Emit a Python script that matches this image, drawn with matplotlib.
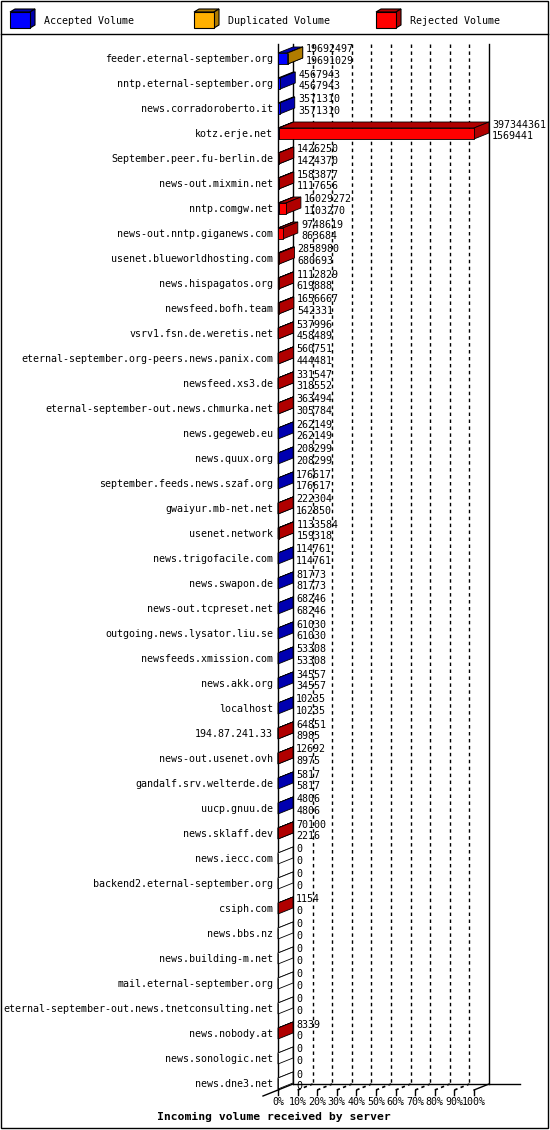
import matplotlib
matplotlib.use("Agg")
import matplotlib.pyplot as plt
from matplotlib.patches import Polygon, Rectangle

# incoming volume per server: total (top number) and accepted (bottom number)
servers = [
    "feeder.eternal-september.org", "nntp.eternal-september.org", "news.corradoroberto.it",
    "kotz.erje.net", "September.peer.fu-berlin.de", "news-out.mixmin.net", "nntp.comgw.net",
    "news-out.nntp.giganews.com", "usenet.blueworldhosting.com", "news.hispagatos.org",
    "newsfeed.bofh.team", "vsrv1.fsn.de.weretis.net", "eternal-september.org-peers.news.panix.com",
    "newsfeed.xs3.de", "eternal-september-out.news.chmurka.net", "news.gegeweb.eu", "news.quux.org",
    "september.feeds.news.szaf.org", "gwaiyur.mb-net.net", "usenet.network", "news.trigofacile.com",
    "news.swapon.de", "news-out.tcpreset.net", "outgoing.news.lysator.liu.se", "newsfeeds.xmission.com",
    "news.akk.org", "localhost", "194.87.241.33", "news-out.usenet.ovh", "gandalf.srv.welterde.de",
    "uucp.gnuu.de", "news.sklaff.dev", "news.iecc.com", "backend2.eternal-september.org", "csiph.com",
    "news.bbs.nz", "news.building-m.net", "mail.eternal-september.org",
    "eternal-september-out.news.tnetconsulting.net", "news.nobody.at", "news.sonologic.net", "news.dne3.net",
]
total = [
    19692497, 4567943, 3571310, 397344361, 1426250, 1583877, 16029272, 9748619, 2858980, 1112829,
    1656667, 537996, 560751, 331547, 363494, 262149, 208299, 176617, 222304, 1133584, 114761,
    81773, 68246, 61030, 53308, 34557, 10235, 64851, 12692, 5817, 4806, 70100, 0, 0, 1154,
    0, 0, 0, 0, 8339, 0, 0,
]
accepted = [
    19691029, 4567943, 3571310, 1569441, 1424370, 1117656, 1103270, 863684, 680693, 619888,
    542331, 458489, 444481, 318552, 305784, 262149, 208299, 176617, 162850, 159318, 114761,
    81773, 68246, 61030, 53308, 34557, 10235, 8985, 8975, 5817, 4806, 2216, 0, 0, 0,
    0, 0, 0, 0, 0, 0, 0,
]
# servers whose non-accepted part shows as duplicated (the rest is rejected)
dup_servers = ["feeder.eternal-september.org"]

legend_names = ["Accepted Volume", "Duplicated Volume", "Rejected Volume"]
front_cols = ["#0000ff", "#ffb000", "#ff0000"]
side_cols = ["#0000b0", "#b07c00", "#b00000"]
tick_labels = ["0%", "10%", "20%", "30%", "40%", "50%", "60%", "70%", "80%", "90%", "100%"]
title = "Incoming volume received by server"

W, H = 550, 1130
FONT = "DejaVu Sans Mono"
FS = 7.2

fig = plt.figure(figsize=(W / 100, H / 100), dpi=100)

# full figure overlay in pixels, for frame and legend
bg = fig.add_axes([0, 0, 1, 1])
bg.set_xlim(0, W)
bg.set_ylim(H, 0)
bg.axis("off")
bg.add_patch(Rectangle((1, 1), 547, 1127, fill=False, ec="black", lw=1))
bg.plot([1, 548], [34, 34], color="black", lw=1)
for i, (name, fc, sc) in enumerate(zip(legend_names, front_cols, side_cols)):
    x0 = [10, 194, 376][i]
    bg.add_patch(Polygon([(x0, 12), (x0 + 5, 9), (x0 + 25, 9), (x0 + 20, 12)], closed=True, fc=sc, ec="black", lw=0.8))
    bg.add_patch(Polygon([(x0 + 20, 12), (x0 + 25, 9), (x0 + 25, 25), (x0 + 20, 28)], closed=True, fc=sc, ec="black", lw=0.8))
    bg.add_patch(Rectangle((x0, 12), 20, 16, fc=fc, ec="black", lw=0.8))
    bg.text(x0 + 34, 21, name, fontsize=FS, family=FONT, va="center", ha="left")
bg.text(274, 1117, title, fontsize=8.2, family=FONT, weight="bold", ha="center", va="center")

# chart axes: x in percent of largest total, y in row index
ax = fig.add_axes([278 / W, 1 - 1084 / H, 196 / W, 1025 / H])
n = len(servers)
ax.set_xlim(0, 100)
ax.set_ylim(n - 1, 0)
ax.axis("off")

dx = 15 / 1.96          # depth offset in percent
dy = 6 / 25             # depth offset in rows
top_off, bot_off = 0.24, 0.2
y_top = -0.6
y_floor = n - 1 + top_off

# walls and grid
ax.plot([0, 0], [y_top, y_floor], color="black", lw=1, clip_on=False, zorder=1)
ax.plot([dx, dx], [y_top, y_floor - dy], color="black", lw=1, clip_on=False, zorder=1)
ax.plot([100 + dx, 100 + dx], [y_top, y_floor - dy], color="black", lw=1, clip_on=False, zorder=1)
for k in range(1, 10):
    gx = 10 * k
    ax.plot([gx + dx, gx + dx], [y_top, y_floor - dy], color="black", lw=1,
            dashes=(2.5, 2.5), clip_on=False, zorder=1)
ax.plot([dx, 123.5], [y_floor - dy, y_floor - dy], color="black", lw=1, clip_on=False, zorder=1)
ax.plot([-dx, dx], [y_floor + dy, y_floor - dy], color="black", lw=1, clip_on=False, zorder=1)
ax.plot([100, 100 + dx], [y_floor, y_floor - dy], color="black", lw=1, clip_on=False, zorder=1)
for k, lab in enumerate(tick_labels):
    tx = 10 * k
    ax.plot([tx, tx], [y_floor, y_floor + 0.2], color="black", lw=1, clip_on=False, zorder=1)
    if 0 < k < 10:
        ax.plot([tx, tx + dx], [y_floor, y_floor - dy], color="black", lw=1.2,
                dashes=(2, 2), clip_on=False, zorder=1)
    ax.text(tx, y_floor + 0.48, lab, fontsize=FS, family=FONT, ha="center", va="center")


def bar3d(x0, x1, r, fc, sc, z):
    yt, yb = r - top_off, r + bot_off
    kw = dict(closed=True, ec="black", lw=0.6, clip_on=False, zorder=z)
    ax.add_patch(Polygon([(x0, yt), (x1, yt), (x1 + dx, yt - dy), (x0 + dx, yt - dy)], fc=sc, **kw))
    ax.add_patch(Polygon([(x1, yb), (x1, yt), (x1 + dx, yt - dy), (x1 + dx, yb - dy)], fc=sc, **kw))
    ax.add_patch(Polygon([(x0, yb), (x1, yb), (x1, yt), (x0, yt)], fc=fc, **kw))


vmax = max(total)
for r, (name, tot, acc) in enumerate(zip(servers, total, accepted)):
    ax.text(-2.5, r, name, fontsize=FS, family=FONT, ha="right", va="center", clip_on=False)
    rest = tot - acc
    parts = [acc, rest if name in dup_servers else 0, 0 if name in dup_servers else rest]
    start = 0.0
    z = 3
    if tot == 0:
        bar3d(0, 0, r, "white", "white", z)
    for val, fc, sc in zip(parts, front_cols, side_cols):
        if val <= 0:
            continue
        end = start + val / vmax * 100
        bar3d(start, end, r, fc, sc, z)
        start = end
        z += 1
    tx = tot / vmax * 100 + dx + 1.6
    ax.text(tx, r - 0.38, str(tot), fontsize=FS, family=FONT, ha="left", va="center", clip_on=False, zorder=10)
    ax.text(tx, r + 0.08, str(acc), fontsize=FS, family=FONT, ha="left", va="center", clip_on=False, zorder=10)

fig.savefig("out.png", dpi=100)
